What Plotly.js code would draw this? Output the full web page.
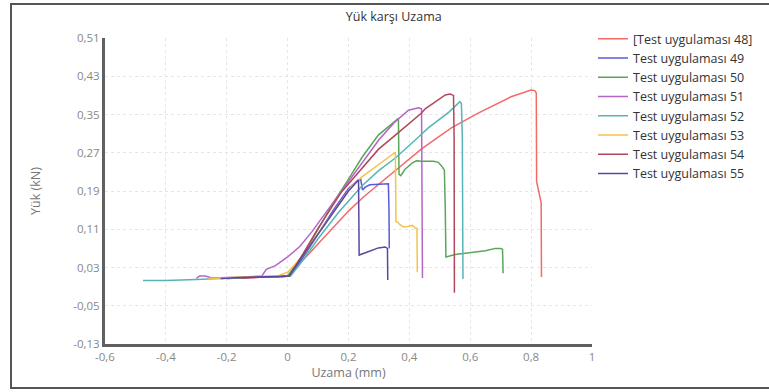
<!DOCTYPE html>
<html>
<head>
<meta charset="utf-8">
<script src="https://cdn.plot.ly/plotly-3.0.1.min.js"></script>
<style>
  html, body { margin: 0; padding: 0; background: #fff; }
  #wrap { position: relative; width: 769px; height: 392px; overflow: hidden; }
  #chart { width: 769px; height: 392px; }
  #frame { position: absolute; left: 10px; top: 3px; width: 780px; height: 386px;
           border-left: 2px solid #555; border-top: 2px solid #555; border-bottom: 2px solid #555;
           pointer-events: none; box-sizing: border-box; }
</style>
</head>
<body>
<div id="wrap">
  <div id="chart"></div>
  <div id="frame"></div>
</div>
<script>
// ---- Data ----
const seriesNames = [
  "[Test uygulaması 48]", "Test uygulaması 49", "Test uygulaması 50", "Test uygulaması 51",
  "Test uygulaması 52", "Test uygulaması 53", "Test uygulaması 54", "Test uygulaması 55"
];

// Test 48 (red)
const x48 = [-0.20, -0.10, -0.02, 0.005, 0.05, 0.10, 0.15, 0.20, 0.25, 0.30, 0.354, 0.44, 0.538, 0.626, 0.734, 0.79, 0.80, 0.812, 0.817, 0.818, 0.825, 0.833, 0.834];
const y48 = [0.007, 0.010, 0.011, 0.012, 0.045, 0.080, 0.115, 0.148, 0.178, 0.204, 0.232, 0.278, 0.322, 0.353, 0.387, 0.398, 0.401, 0.400, 0.395, 0.210, 0.190, 0.165, 0.010];

// Test 49 (blue)
const x49 = [-0.20, -0.10, -0.01, 0.005, 0.05, 0.10, 0.15, 0.20, 0.23, 0.24, 0.243, 0.246, 0.255, 0.27, 0.30, 0.331, 0.333, 0.334];
const y49 = [0.007, 0.010, 0.011, 0.012, 0.050, 0.100, 0.150, 0.195, 0.212, 0.215, 0.200, 0.192, 0.198, 0.203, 0.204, 0.205, 0.150, 0.070];

// Test 50 (green)
const x50 = [-0.22, -0.10, -0.02, 0.0, 0.05, 0.10, 0.15, 0.20, 0.243, 0.298, 0.341, 0.364, 0.366, 0.372, 0.385, 0.41, 0.423, 0.44, 0.48, 0.495, 0.505, 0.515, 0.518, 0.52, 0.55, 0.60, 0.65, 0.682, 0.70, 0.706, 0.708];
const y50 = [0.007, 0.010, 0.011, 0.013, 0.055, 0.110, 0.165, 0.215, 0.259, 0.307, 0.330, 0.342, 0.225, 0.222, 0.235, 0.249, 0.253, 0.252, 0.252, 0.250, 0.243, 0.234, 0.150, 0.052, 0.057, 0.061, 0.065, 0.070, 0.070, 0.068, 0.018];

// Test 51 (purple)
const x51 = [-0.30, -0.29, -0.27, -0.25, -0.15, -0.085, -0.07, -0.04, 0.0, 0.04, 0.08, 0.12, 0.20, 0.25, 0.30, 0.35, 0.397, 0.43, 0.44, 0.443];
const y51 = [0.007, 0.012, 0.012, 0.008, 0.010, 0.012, 0.026, 0.034, 0.052, 0.074, 0.105, 0.140, 0.210, 0.255, 0.297, 0.333, 0.359, 0.364, 0.362, 0.008];

// Test 52 (teal)
const x52 = [-0.475, -0.40, -0.30, -0.20, -0.10, -0.01, 0.01, 0.05, 0.10, 0.167, 0.243, 0.298, 0.354, 0.43, 0.462, 0.53, 0.561, 0.566, 0.571, 0.574, 0.576];
const y52 = [0.003, 0.003, 0.005, 0.008, 0.010, 0.011, 0.012, 0.045, 0.090, 0.145, 0.200, 0.232, 0.259, 0.303, 0.322, 0.355, 0.374, 0.377, 0.373, 0.300, 0.006];

// Test 53 (yellow)
const x53 = [-0.26, -0.15, -0.05, -0.03, 0.0, 0.05, 0.10, 0.15, 0.21, 0.243, 0.298, 0.354, 0.356, 0.362, 0.368, 0.38, 0.39, 0.40, 0.41, 0.42, 0.425, 0.426];
const y53 = [0.007, 0.010, 0.012, 0.013, 0.020, 0.055, 0.100, 0.145, 0.200, 0.219, 0.244, 0.271, 0.126, 0.125, 0.120, 0.115, 0.115, 0.117, 0.118, 0.112, 0.112, 0.020];

// Test 54 (brown)
const x54 = [-0.15, -0.08, -0.01, 0.005, 0.05, 0.10, 0.177, 0.243, 0.298, 0.354, 0.44, 0.452, 0.50, 0.518, 0.534, 0.545, 0.547, 0.548];
const y54 = [0.008, 0.010, 0.011, 0.012, 0.058, 0.112, 0.188, 0.236, 0.277, 0.307, 0.353, 0.362, 0.384, 0.391, 0.393, 0.390, 0.300, -0.023];

// Test 55 (indigo)
const x55 = [-0.22, -0.12, -0.02, 0.005, 0.05, 0.10, 0.15, 0.20, 0.233, 0.235, 0.26, 0.298, 0.32, 0.328, 0.329];
const y55 = [0.007, 0.010, 0.011, 0.012, 0.055, 0.100, 0.145, 0.190, 0.213, 0.056, 0.062, 0.071, 0.073, 0.070, 0.004];

const xTickVals = [-0.6, -0.4, -0.2, 0, 0.2, 0.4, 0.6, 0.8, 1];
const xTickText = ["-0,6", "-0,4", "-0,2", "0", "0,2", "0,4", "0,6", "0,8", "1"];
const yTickVals = [-0.13, -0.05, 0.03, 0.11, 0.19, 0.27, 0.35, 0.43, 0.51];
const yTickText = ["-0,13", "-0,05", "0,03", "0,11", "0,19", "0,27", "0,35", "0,43", "0,51"];

const colors = ["#f26a6a", "#5a5ad8", "#5aa65a", "#b366c6", "#58b4b4", "#f5c24c", "#b0475a", "#5d46a2"];
const xs = [x48, x49, x50, x51, x52, x53, x54, x55];
const ys = [y48, y49, y50, y51, y52, y53, y54, y55];

const traces = seriesNames.map((n, i) => ({
  type: "scatter", mode: "lines", name: n,
  x: xs[i], y: ys[i],
  line: { color: colors[i], width: 1.5 }
}));

const font = "'Open Sans', 'Noto Sans', sans-serif";
const layout = {
  width: 769, height: 392,
  margin: { l: 105, r: 176, t: 38, b: 48 },
  paper_bgcolor: "#fff", plot_bgcolor: "#fff",
  font: { family: font, color: "#444" },
  title: { text: "Yük karşı Uzama", font: { size: 12.5, color: "#333", family: font },
           x: 0.512, xref: "container", xanchor: "center", y: 0.957, yref: "container", yanchor: "middle" },
  xaxis: {
    range: [-0.6, 1], tickvals: xTickVals, ticktext: xTickText,
    showgrid: true, gridcolor: "#e6e6e6", griddash: "dot", gridwidth: 1,
    zeroline: false, showline: true, linecolor: "#606060", linewidth: 3,
    ticks: "", tickfont: { size: 11.5, color: "#888" },
    title: { text: "Uzama (mm)", font: { size: 12.5, color: "#777" }, standoff: 6 }
  },
  yaxis: {
    range: [-0.13, 0.51], tickvals: yTickVals, ticktext: yTickText,
    showgrid: true, gridcolor: "#e6e6e6", griddash: "dot", gridwidth: 1,
    zeroline: false, showline: true, linecolor: "#606060", linewidth: 3,
    ticks: "", tickfont: { size: 11.5, color: "#888" },
    title: { text: "Yük (kN)", font: { size: 12.5, color: "#777" }, standoff: 30 }
  },
  showlegend: true,
  legend: { x: 1.0, xanchor: "left", y: 1.045, yanchor: "top",
            font: { size: 12.5, color: "#333", family: font },
            bgcolor: "rgba(0,0,0,0)", tracegroupgap: 0 }
};

Plotly.newPlot("chart", traces, layout, { displayModeBar: false, staticPlot: true });
</script>
</body>
</html>
